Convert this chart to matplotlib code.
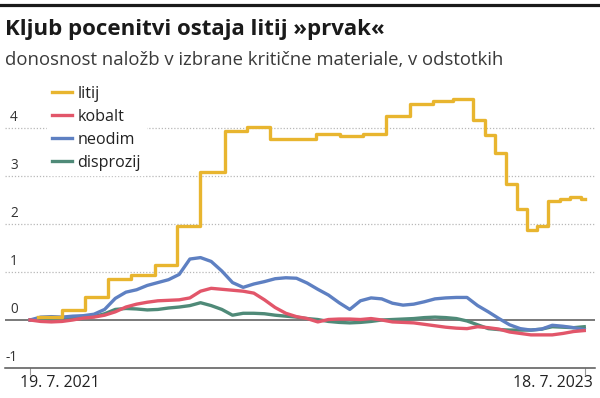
import matplotlib
matplotlib.use("Agg")
import matplotlib.pyplot as plt
import pandas as pd

plt.rcParams['font.family'] = ['Open Sans', 'DejaVu Sans']

# ---- data ----
start_date = "2021-07-19"
end_date = "2023-07-18"

litij_dates = ["2021-07-29", "2021-08-30", "2021-09-29", "2021-10-29", "2021-11-29",
               "2021-12-30", "2022-01-28", "2022-02-27", "2022-04-01", "2022-04-30",
               "2022-05-30", "2022-06-29", "2022-07-30", "2022-08-30", "2022-09-29",
               "2022-10-30", "2022-11-30", "2022-12-30", "2023-01-26", "2023-02-21",
               "2023-03-09", "2023-03-22", "2023-04-05", "2023-04-20", "2023-05-03",
               "2023-05-16", "2023-05-30", "2023-06-15", "2023-06-28", "2023-07-13",
               "2023-07-18"]
litij_values = [0.07, 0.20, 0.48, 0.86, 0.93, 1.15, 1.95, 3.09, 3.94, 4.02,
                3.77, 3.78, 3.87, 3.84, 3.88, 4.25, 4.50, 4.56, 4.60, 4.17,
                3.85, 3.47, 2.83, 2.31, 1.87, 1.96, 2.48, 2.52, 2.56, 2.52,
                2.52]

# common dates for the daily series (every 14 days)
series_dates = pd.date_range("2021-07-19", periods=53, freq="14D")

neodim = [0.00, 0.06, 0.07, 0.06, 0.08, 0.09, 0.12, 0.22, 0.45, 0.58,
          0.63, 0.72, 0.78, 0.84, 0.95, 1.27, 1.30, 1.22, 1.02, 0.78,
          0.68, 0.75, 0.80, 0.86, 0.88, 0.87, 0.77, 0.64, 0.52, 0.36,
          0.22, 0.40, 0.46, 0.44, 0.35, 0.31, 0.33, 0.38, 0.44, 0.46,
          0.47, 0.47, 0.30, 0.17, 0.03, -0.10, -0.18, -0.21, -0.19, -0.11,
          -0.13, -0.16, -0.20]
kobalt = [0.00, -0.03, -0.04, -0.03, 0.00, 0.04, 0.06, 0.10, 0.17, 0.27,
          0.33, 0.37, 0.40, 0.41, 0.42, 0.46, 0.60, 0.66, 0.64, 0.62,
          0.60, 0.56, 0.42, 0.26, 0.14, 0.07, 0.03, -0.04, 0.01, 0.02,
          0.02, 0.01, 0.03, 0.00, -0.04, -0.05, -0.06, -0.09, -0.12, -0.15,
          -0.17, -0.18, -0.14, -0.16, -0.19, -0.25, -0.28, -0.31, -0.31, -0.31,
          -0.28, -0.24, -0.22]
disprozij = [0.00, 0.02, 0.04, 0.05, 0.05, 0.06, 0.07, 0.13, 0.22, 0.24,
             0.23, 0.21, 0.22, 0.25, 0.27, 0.30, 0.36, 0.30, 0.22, 0.10,
             0.14, 0.14, 0.13, 0.10, 0.08, 0.06, 0.03, 0.01, -0.03, -0.05,
             -0.06, -0.05, -0.03, 0.00, 0.01, 0.02, 0.03, 0.05, 0.06, 0.05,
             0.03, -0.02, -0.10, -0.18, -0.20, -0.21, -0.21, -0.21, -0.19, -0.14,
             -0.15, -0.16, -0.14]

labels = ["litij", "kobalt", "neodim", "disprozij"]
colors = {"litij": "#E8B52F", "kobalt": "#E2566A", "neodim": "#5E80C2", "disprozij": "#4F8A78"}
yticks = [-1, 0, 1, 2, 3, 4]
xlabels = ["19. 7. 2021", "18. 7. 2023"]

# ---- figure ----
W, H = 600, 398
fig = plt.figure(figsize=(W / 100, H / 100), dpi=100)

ax_left, ax_right = 5, 595
ax_top, ax_bottom = 92, 368
ax = fig.add_axes([ax_left / W, 1 - ax_bottom / H, (ax_right - ax_left) / W, (ax_bottom - ax_top) / H])

d0 = pd.Timestamp(start_date)
d1 = pd.Timestamp(end_date)
days_per_px = (d1 - d0).days / (585 - 30)
ax.set_xlim(d0 - pd.Timedelta(days=(30 - ax_left) * days_per_px),
            d1 + pd.Timedelta(days=(ax_right - 585) * days_per_px))
ax.set_ylim(-1, -1 + (ax_bottom - ax_top) / 48)

for v in [1, 2, 3, 4]:
    ax.axhline(v, color="#b8b8b8", lw=0.9, ls=(0, (1, 1.5)), zorder=1)
ax.axhline(0, color="#555555", lw=1.1, zorder=2)

lw = 2.4
ax.plot(series_dates, disprozij, color=colors["disprozij"], lw=lw, zorder=3, label="disprozij")
ax.plot(series_dates, neodim, color=colors["neodim"], lw=lw, zorder=4, label="neodim")
ax.plot(series_dates, kobalt, color=colors["kobalt"], lw=lw, zorder=5, label="kobalt")
ax.plot(pd.to_datetime(litij_dates), litij_values, color=colors["litij"], lw=lw,
        drawstyle="steps-post", zorder=6, label="litij")

for s in ["top", "right", "left"]:
    ax.spines[s].set_visible(False)
ax.spines["bottom"].set_color("#555555")
ax.spines["bottom"].set_linewidth(1.1)

ax.set_yticks([])
ax.set_xticks([d0, d1])
ax.set_xticklabels(["", ""])
ax.tick_params(axis="x", length=5, width=0.8, color="#999999", direction="out")

for v in yticks:
    ax.annotate(str(v), xy=(13 / (ax_right - ax_left), v),
                xycoords=("axes fraction", "data"), xytext=(0, 7.5), textcoords="offset points",
                ha="right", va="center", fontsize=9.8, color="#333333")

ax.annotate(xlabels[0], xy=(d0, 0), xycoords=("data", "axes fraction"),
            xytext=(-7, -11), textcoords="offset points", ha="left", va="center",
            fontsize=11.4, color="#222222")
ax.annotate(xlabels[1], xy=(d1, 0), xycoords=("data", "axes fraction"),
            xytext=(6, -11), textcoords="offset points", ha="right", va="center",
            fontsize=11.4, color="#222222")

handles, labs = ax.get_legend_handles_labels()
order = [labs.index(l) for l in labels]
leg = ax.legend([handles[i] for i in order], [labs[i] for i in order],
                loc="upper left", bbox_to_anchor=(47 / W, 1 - 81 / H),
                bbox_transform=fig.transFigure, frameon=True, fontsize=11.6,
                handlelength=1.25, handletextpad=0.35, labelspacing=0.43,
                borderpad=0.3, borderaxespad=0)
leg.get_frame().set_facecolor("white")
leg.get_frame().set_edgecolor("white")
leg.get_frame().set_alpha(1)
leg.set_zorder(7)
for t in leg.get_texts():
    t.set_color("#222222")

# top rule
fig.add_artist(plt.Line2D([0, 1], [1 - 5 / H, 1 - 5 / H], color="#1a1a1a", lw=2.3))

fig.text(5 / W, 1 - 29 / H, "Kljub pocenitvi ostaja litij »prvak«", fontsize=16,
         fontweight="bold", color="#1a1a1a", ha="left", va="center")
fig.text(5 / W, 1 - 60 / H, "donosnost naložb v izbrane kritične materiale, v odstotkih",
         fontsize=13.3, color="#3a3a3a", ha="left", va="center")

fig.savefig("out.png", dpi=100)
